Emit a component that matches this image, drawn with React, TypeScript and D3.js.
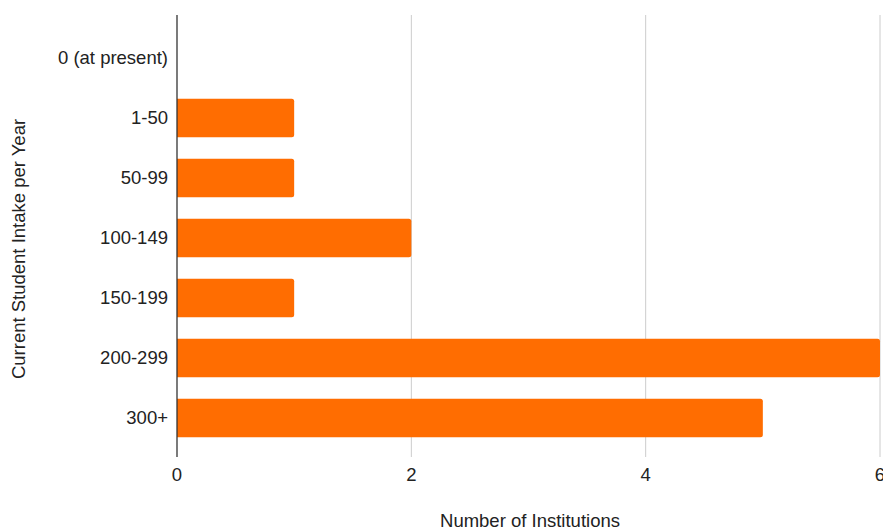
import React from "react";
import * as d3 from "d3";

const categories = ["0 (at present)", "1-50", "50-99", "100-149", "150-199", "200-299", "300+"];
const institutions = [0, 1, 1, 2, 1, 6, 5];
const xTicks = [0, 2, 4, 6];

const W = 883;
const H = 528;
const FONT = "'Liberation Sans', Arial, Helvetica, sans-serif";
const FS = 18.5;

// Bar with rounded right-hand corners only
function barPath(x0: number, x1: number, y: number, h: number, r: number) {
  const w = x1 - x0;
  if (w <= 0) return "";
  const rr = Math.min(r, w / 2, h / 2);
  return `M${x0},${y}H${x1 - rr}A${rr},${rr} 0 0 1 ${x1},${y + rr}V${y + h - rr}A${rr},${rr} 0 0 1 ${x1 - rr},${y + h}H${x0}Z`;
}

export default function App() {
  const x = d3.scaleLinear().domain([0, 6]).range([177, 880]);
  const y = d3
    .scaleBand<string>()
    .domain(categories)
    .range([18, 458])
    .paddingInner(0.36)
    .paddingOuter(0.347);

  const plotTop = 15;
  const plotBottom = 457;

  return (
    <svg
      width={W}
      height={H}
      style={{ position: "absolute", left: 0, top: 0, background: "#fff" }}
      fontFamily={FONT}
    >
      {/* vertical gridlines */}
      {xTicks
        .filter((t) => t !== 0)
        .map((t) => (
          <line
            key={`g${t}`}
            x1={x(t)}
            x2={x(t)}
            y1={plotTop}
            y2={plotBottom}
            stroke="#cccccc"
            strokeWidth={1}
          />
        ))}

      {/* bars */}
      {categories.map((c, i) => (
        <path
          key={c}
          d={barPath(x(0), x(institutions[i]), y(c)!, y.bandwidth(), 2.5)}
          fill="#ff6d01"
        />
      ))}

      {/* baseline axis */}
      <line x1={x(0)} x2={x(0)} y1={plotTop} y2={plotBottom} stroke="#333333" strokeWidth={1.3} />

      {/* category labels */}
      {categories.map((c) => (
        <text
          key={`l${c}`}
          x={168}
          y={y(c)! + y.bandwidth() / 2}
          dy="0.35em"
          textAnchor="end"
          fontSize={FS}
          fill="#222222"
        >
          {c}
        </text>
      ))}

      {/* x tick labels */}
      {xTicks.map((t) => (
        <text key={`t${t}`} x={x(t)} y={481} textAnchor="middle" fontSize={FS} fill="#222222">
          {t}
        </text>
      ))}

      {/* axis titles */}
      <text x={530} y={527} textAnchor="middle" fontSize={FS} fill="#222222">
        Number of Institutions
      </text>
      <text
        transform={`translate(25,249) rotate(-90)`}
        textAnchor="middle"
        fontSize={FS}
        fill="#222222"
      >
        Current Student Intake per Year
      </text>
    </svg>
  );
}
